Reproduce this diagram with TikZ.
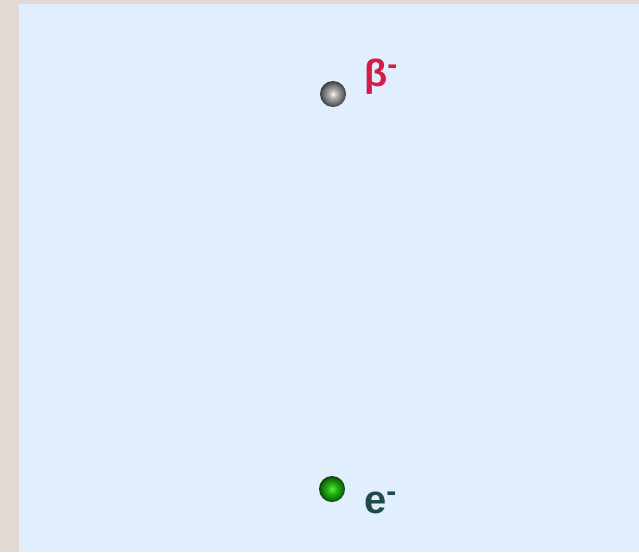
\documentclass[tikz,border=0pt]{standalone}
\usepackage{fontspec}
\setmainfont{Liberation Sans}
\definecolor{bgbeige}{HTML}{E2D9D5}
\definecolor{panel}{HTML}{E1EEFD}
\definecolor{betared}{HTML}{D41C45}
\definecolor{eteal}{HTML}{1F4A4A}
\definecolor{gA}{HTML}{F4F4F4}
\definecolor{gB}{HTML}{A8A8A8}
\definecolor{gC}{HTML}{6A6A6A}
\definecolor{gD}{HTML}{3A3A3A}
\definecolor{nA}{HTML}{5CF040}
\definecolor{nB}{HTML}{25B515}
\definecolor{nC}{HTML}{137A0A}
\definecolor{nD}{HTML}{0B4206}
\pgfdeclareradialshading{greyball}{\pgfpoint{0bp}{0bp}}{color(0bp)=(gA); color(9bp)=(gB); color(19bp)=(gC); color(25bp)=(gD); color(50bp)=(gD)}
\pgfdeclareradialshading{greenball}{\pgfpoint{0bp}{0bp}}{color(0bp)=(nA); color(9bp)=(nB); color(19bp)=(nC); color(25bp)=(nD); color(50bp)=(nD)}
\tikzset{
  lbl/.style={anchor=base west, inner sep=0pt},
  ball/.style={circle, minimum size=26pt, inner sep=0pt},
}
\begin{document}
\begin{tikzpicture}[x=1pt,y=-1pt]
\fill[bgbeige] (0,0) rectangle (639,552);
\fill[panel] (19,4) rectangle (639,552);
\useasboundingbox (0,0) rectangle (639,552);
\node[ball, shading=greyball] (beta) at (333,94) {};
\node[ball, shading=greenball] (elec) at (332,489) {};
\node[lbl, text=betared, font=\fontsize{38}{38}\selectfont\bfseries] (betalbl) at (364,86) {β\raisebox{0.3em}{\fontsize{30}{30}\selectfont\bfseries -}};
\node[lbl, text=eteal, font=\fontsize{40}{40}\selectfont\bfseries] (elbl) at (364,513) {e\raisebox{0.3em}{\fontsize{30}{30}\selectfont\bfseries -}};
\end{tikzpicture}
\end{document}
